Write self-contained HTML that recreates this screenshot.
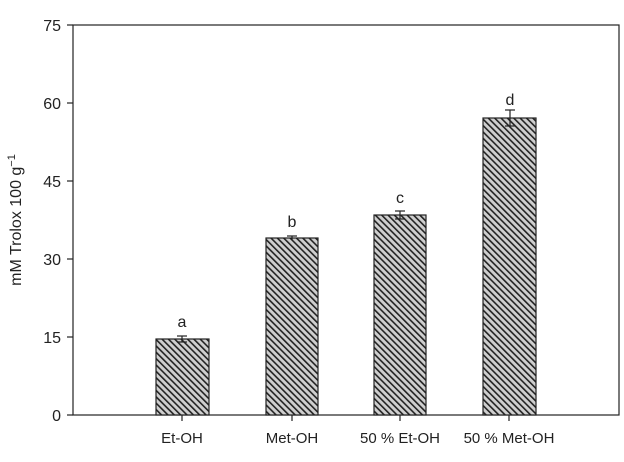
<!DOCTYPE html>
<html><head><style>body{margin:0;background:#fff}</style></head><body>
<svg width="624" height="457" xmlns="http://www.w3.org/2000/svg" font-family="Liberation Sans, Arial, sans-serif">
<defs>
<pattern id="h" width="4.5" height="4.5" patternUnits="userSpaceOnUse" patternTransform="rotate(-45)">
<rect width="4.5" height="4.5" fill="#cfcfcf"/>
<rect x="0" y="0" width="1.6" height="4.5" fill="#222"/>
</pattern>
</defs>
<rect x="73" y="25" width="546" height="390" fill="none" stroke="#222" stroke-width="1.2"/>
<g stroke="#222" stroke-width="1.2">
<line x1="67" y1="25" x2="73" y2="25"/><line x1="67" y1="103" x2="73" y2="103"/>
<line x1="67" y1="181" x2="73" y2="181"/><line x1="67" y1="259" x2="73" y2="259"/>
<line x1="67" y1="337" x2="73" y2="337"/><line x1="67" y1="415" x2="73" y2="415"/>
<line x1="182" y1="415" x2="182" y2="421"/><line x1="292" y1="415" x2="292" y2="421"/>
<line x1="400" y1="415" x2="400" y2="421"/><line x1="509" y1="415" x2="509" y2="421"/>
</g>
<g font-size="16" fill="#222" text-anchor="end">
<text x="61" y="31">75</text><text x="61" y="109">60</text><text x="61" y="187">45</text>
<text x="61" y="265">30</text><text x="61" y="343">15</text><text x="61" y="421">0</text>
</g>
<g font-size="15" fill="#222" text-anchor="middle">
<text x="182" y="443">Et-OH</text><text x="292" y="443">Met-OH</text>
<text x="400" y="443">50 % Et-OH</text><text x="509" y="443">50 % Met-OH</text>
</g>
<text transform="translate(21,220) rotate(-90)" font-size="16" fill="#222" text-anchor="middle">mM Trolox 100 g<tspan dy="-6" font-size="11">−1</tspan></text>
<g stroke="#222" stroke-width="1.2" fill="url(#h)">
<rect x="156" y="339" width="53" height="76"/>
<rect x="266" y="238" width="52" height="177"/>
<rect x="374" y="215" width="52" height="200"/>
<rect x="483" y="118" width="53" height="297"/>
</g>
<g stroke="#222" stroke-width="1.2">
<line x1="182" y1="336" x2="182" y2="342"/><line x1="177" y1="336" x2="187" y2="336"/><line x1="177" y1="342" x2="187" y2="342"/>
<line x1="292" y1="236" x2="292" y2="240"/><line x1="287" y1="236" x2="297" y2="236"/>
<line x1="400" y1="211" x2="400" y2="219"/><line x1="395" y1="211" x2="405" y2="211"/><line x1="395" y1="219" x2="405" y2="219"/>
<line x1="510" y1="110" x2="510" y2="126"/><line x1="505" y1="110" x2="515" y2="110"/><line x1="505" y1="126" x2="515" y2="126"/>
</g>
<g font-size="16" fill="#222" text-anchor="middle">
<text x="182" y="327">a</text><text x="292" y="227">b</text><text x="400" y="203">c</text><text x="510" y="105">d</text>
</g>
</svg>
</body></html>
